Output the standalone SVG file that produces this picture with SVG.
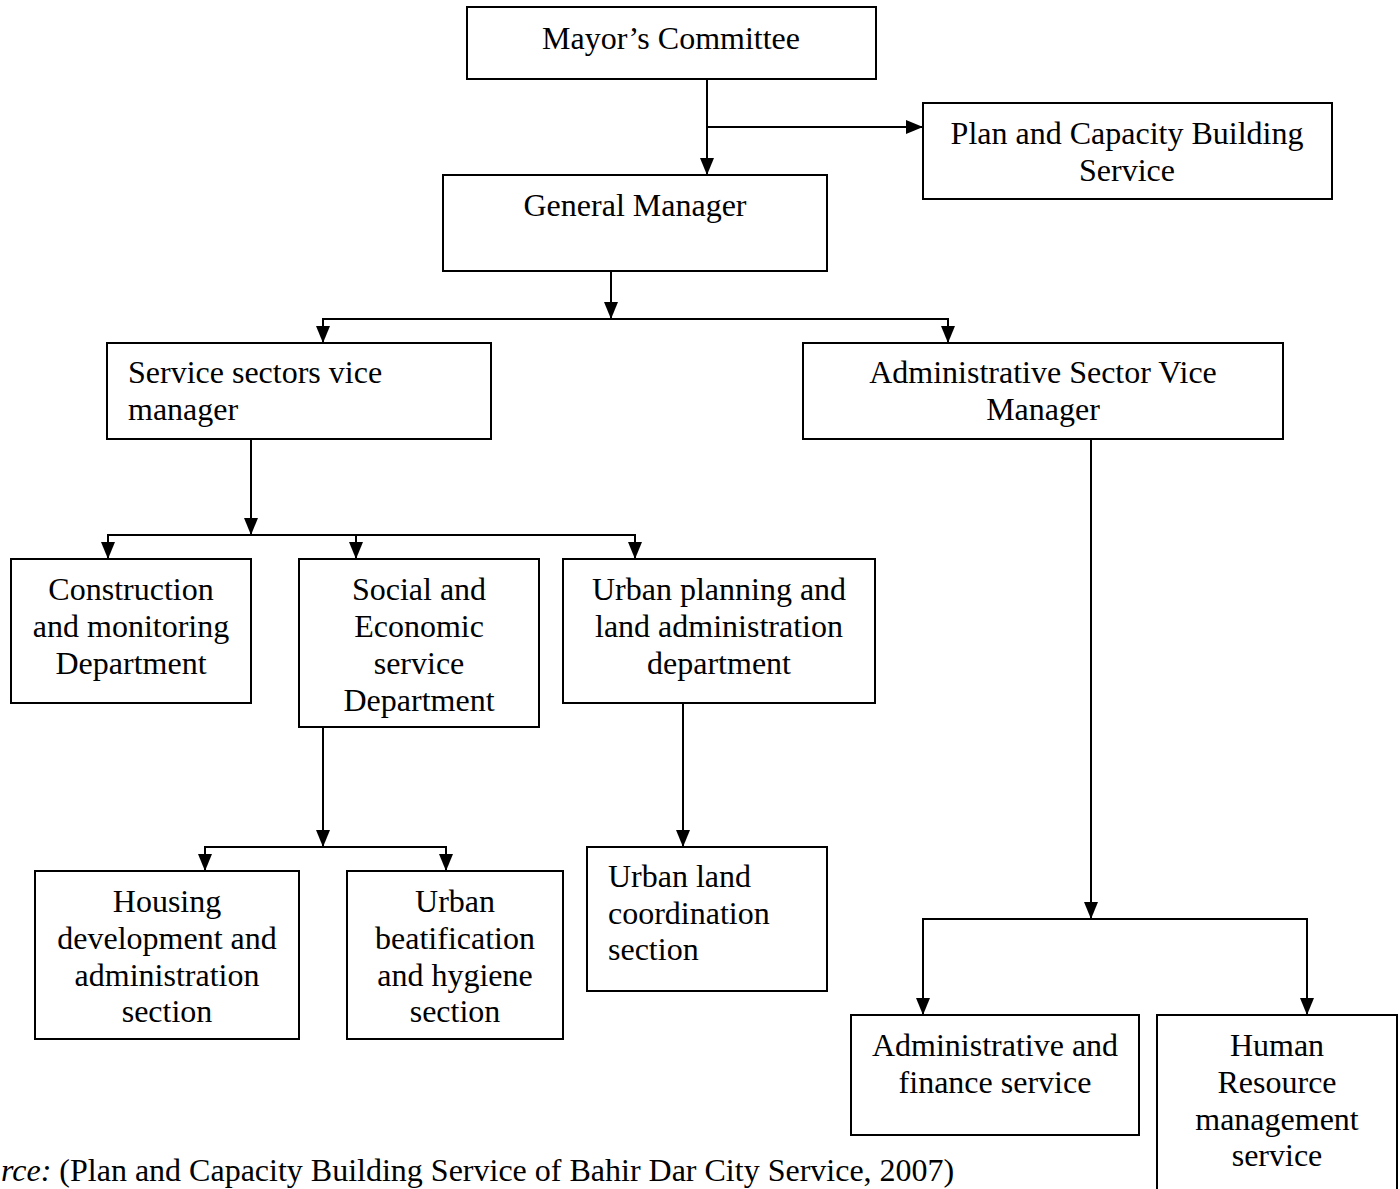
<svg xmlns="http://www.w3.org/2000/svg" width="1400" height="1189" viewBox="0 0 1400 1189">
<style>
.box{fill:#fff;stroke:#000;stroke-width:2}
.t{font-family:"Liberation Serif","Times New Roman",serif;font-size:32px;fill:#000}
.c{text-anchor:middle}
.ln{fill:none;stroke:#000;stroke-width:2}
</style>
<defs>
<marker id="ah" viewBox="0 0 17 14" markerWidth="17" markerHeight="14" refX="17" refY="7" orient="auto" markerUnits="userSpaceOnUse">
<polygon points="0,0 17,7 0,14" fill="#000"/>
</marker>
</defs>
<rect width="1400" height="1189" fill="#fff"/>
<g id="connectors">
<path class="ln" d="M707,79 V175" marker-end="url(#ah)"/>
<path class="ln" d="M707,127 H923" marker-end="url(#ah)"/>
<path class="ln" d="M611,271 V319" marker-end="url(#ah)"/>
<path class="ln" d="M323,330 V319 H948 V330"/>
<path class="ln" d="M323,327 V343" marker-end="url(#ah)"/>
<path class="ln" d="M948,327 V343" marker-end="url(#ah)"/>
<path class="ln" d="M251,439 V535" marker-end="url(#ah)"/>
<path class="ln" d="M108,546 V535 H635 V546"/>
<path class="ln" d="M108,543 V559" marker-end="url(#ah)"/>
<path class="ln" d="M356,535 V559" marker-end="url(#ah)"/>
<path class="ln" d="M635,543 V559" marker-end="url(#ah)"/>
<path class="ln" d="M323,727 V847" marker-end="url(#ah)"/>
<path class="ln" d="M205,858 V847 H446 V858"/>
<path class="ln" d="M205,855 V871" marker-end="url(#ah)"/>
<path class="ln" d="M446,855 V871" marker-end="url(#ah)"/>
<path class="ln" d="M683,703 V847" marker-end="url(#ah)"/>
<path class="ln" d="M1091,439 V919" marker-end="url(#ah)"/>
<path class="ln" d="M923,1000 V919 H1307 V1000"/>
<path class="ln" d="M923,990 V1015" marker-end="url(#ah)"/>
<path class="ln" d="M1307,990 V1015" marker-end="url(#ah)"/>
</g>
<g id="mayor">
<rect class="box" x="467" y="7" width="409" height="72"/>
<text class="t c" x="671" y="49">Mayor’s Committee</text>
</g>
<g id="plan">
<rect class="box" x="923" y="103" width="409" height="96"/>
<text class="t c" x="1127" y="144">Plan and Capacity Building</text>
<text class="t c" x="1127" y="181">Service</text>
</g>
<g id="gm">
<rect class="box" x="443" y="175" width="384" height="96"/>
<text class="t c" x="635" y="216">General Manager</text>
</g>
<g id="service">
<rect class="box" x="107" y="343" width="384" height="96"/>
<text class="t" x="128" y="383">Service sectors vice</text>
<text class="t" x="128" y="420">manager</text>
</g>
<g id="adminvice">
<rect class="box" x="803" y="343" width="480" height="96"/>
<text class="t c" x="1043" y="383">Administrative Sector Vice</text>
<text class="t c" x="1043" y="420">Manager</text>
</g>
<g id="construction">
<rect class="box" x="11" y="559" width="240" height="144"/>
<text class="t c" x="131" y="600">Construction</text>
<text class="t c" x="131" y="637">and monitoring</text>
<text class="t c" x="131" y="674">Department</text>
</g>
<g id="social">
<rect class="box" x="299" y="559" width="240" height="168"/>
<text class="t c" x="419" y="600">Social and</text>
<text class="t c" x="419" y="637">Economic</text>
<text class="t c" x="419" y="674">service</text>
<text class="t c" x="419" y="711">Department</text>
</g>
<g id="urbanplanning">
<rect class="box" x="563" y="559" width="312" height="144"/>
<text class="t c" x="719" y="600">Urban planning and</text>
<text class="t c" x="719" y="637">land administration</text>
<text class="t c" x="719" y="674">department</text>
</g>
<g id="housing">
<rect class="box" x="35" y="871" width="264" height="168"/>
<text class="t c" x="167" y="912">Housing</text>
<text class="t c" x="167" y="949">development and</text>
<text class="t c" x="167" y="986">administration</text>
<text class="t c" x="167" y="1022">section</text>
</g>
<g id="beatification">
<rect class="box" x="347" y="871" width="216" height="168"/>
<text class="t c" x="455" y="912">Urban</text>
<text class="t c" x="455" y="949">beatification</text>
<text class="t c" x="455" y="986">and hygiene</text>
<text class="t c" x="455" y="1022">section</text>
</g>
<g id="urbanland">
<rect class="box" x="587" y="847" width="240" height="144"/>
<text class="t" x="608" y="887">Urban land</text>
<text class="t" x="608" y="924">coordination</text>
<text class="t" x="608" y="960">section</text>
</g>
<g id="adminfinance">
<rect class="box" x="851" y="1015" width="288" height="120"/>
<text class="t c" x="995" y="1056">Administrative and</text>
<text class="t c" x="995" y="1093">finance service</text>
</g>
<g id="hr">
<rect class="box" x="1157" y="1015" width="240" height="200"/>
<text class="t c" x="1277" y="1056">Human</text>
<text class="t c" x="1277" y="1093">Resource</text>
<text class="t c" x="1277" y="1130">management</text>
<text class="t c" x="1277" y="1166">service</text>
</g>
<g id="source">
<text class="t" x="1" y="1181"><tspan font-style="italic">rce:</tspan> (Plan and Capacity Building Service of Bahir Dar City Service, 2007)</text>
</g>
</svg>
